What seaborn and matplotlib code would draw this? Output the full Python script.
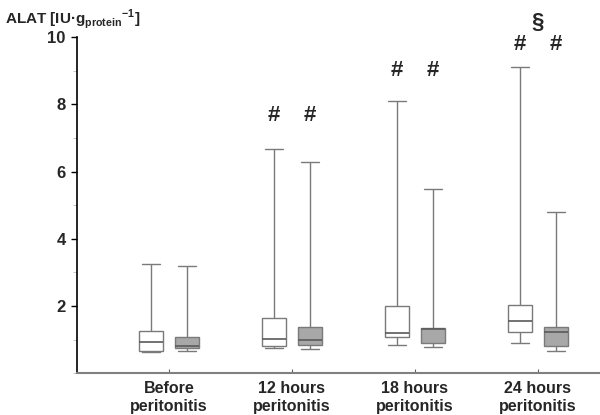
import pandas as pd
import matplotlib
matplotlib.use("Agg")
import matplotlib.pyplot as plt
import seaborn as sns
from matplotlib.ticker import MultipleLocator

# ---------------------------------------------
# Data: five-number summaries
# [min, q1, median, q3, max]
# ---------------------------------------------
categories = ["Before\nperitonitis", "12 hours\nperitonitis",
              "18 hours\nperitonitis", "24 hours\nperitonitis"]
groups = ["Group 1", "Group 2"]

group1_stats = [
    [0.64, 0.65, 0.92, 1.26, 3.24],
    [0.74, 0.81, 1.03, 1.63, 6.66],
    [0.84, 1.06, 1.18, 2.00, 8.09],
    [0.89, 1.21, 1.54, 2.03, 9.12],
]
group2_stats = [
    [0.67, 0.76, 0.81, 1.08, 3.19],
    [0.71, 0.84, 0.99, 1.36, 6.30],
    [0.77, 0.91, 1.32, 1.35, 5.47],
    [0.65, 0.82, 1.21, 1.37, 4.80],
]

# significance marks: (category index, group index or None for centre, symbol, y)
marks = [
    (1, 0, "#", 7.68), (1, 1, "#", 7.68),
    (2, 0, "#", 9.02), (2, 1, "#", 9.02),
    (3, 0, "#", 9.79), (3, 1, "#", 9.79),
    (3, None, "§", 10.45),
]

# five values -> quartiles with linear interpolation hit exactly q1/median/q3
rows = []
for cat, s1, s2 in zip(categories, group1_stats, group2_stats):
    for v in s1:
        rows.append({"time": cat, "group": groups[0], "alat": v})
    for v in s2:
        rows.append({"time": cat, "group": groups[1], "alat": v})
df = pd.DataFrame(rows)

sns.set_style("white")
plt.rcParams["font.family"] = ["Liberation Sans", "DejaVu Sans"]
plt.rcParams["font.weight"] = "bold"
plt.rcParams["mathtext.fontset"] = "custom"
plt.rcParams["mathtext.bf"] = "Liberation Sans:bold"
plt.rcParams["mathtext.rm"] = "Liberation Sans:bold"

fig = plt.figure(figsize=(6, 4.15), dpi=100)
ax = fig.add_axes([0.128, 0.101, 0.872, 0.809])

box_width = 0.585
sns.boxplot(data=df, x="time", y="alat", hue="group", order=categories,
            hue_order=groups, whis=(0, 100), width=box_width, gap=0.33,
            palette=["white", "#a8a8a8"], linecolor="#7a7a7a", linewidth=1.0,
            medianprops=dict(color="#5a5a5a", linewidth=1.2),
            legend=False, ax=ax)

# widen the whisker caps a bit (reference caps ~ 3/4 of box width)
for cont in ax.containers:
    for cap in getattr(cont, "caps", []):
        xs = cap.get_xdata()
        mid = (xs[0] + xs[-1]) / 2
        cap.set_xdata([mid - 0.075, mid + 0.075])

ax.set_ylim(0, 10)
ax.set_xlim(-0.748, 3.504)
ax.yaxis.set_minor_locator(MultipleLocator(1))
ax.set_yticks([2, 4, 6, 8, 10])
ax.set_xlabel("")
ax.set_ylabel("")

for side in ["top", "right"]:
    ax.spines[side].set_visible(False)
ax.spines["left"].set_color("black")
ax.spines["left"].set_linewidth(1.2)
ax.spines["bottom"].set_color("#808080")
ax.spines["bottom"].set_linewidth(1.5)

ax.tick_params(axis="y", which="major", direction="out", length=4, width=1,
               color="black", labelsize=12, pad=4, left=True)
ax.tick_params(axis="y", which="minor", direction="out", length=3, width=0.6,
               color="#bbbbbb", left=True)
ax.tick_params(axis="x", direction="in", length=3, width=0.8, color="#606060",
               labelsize=11.5, pad=6, bottom=True)
for lab in ax.get_xticklabels() + ax.get_yticklabels():
    lab.set_fontweight("bold")

# significance symbols
offset = box_width / 4
for ci, gi, sym, y in marks:
    x = ci if gi is None else ci + (-offset if gi == 0 else offset)
    ax.text(x, y, sym, ha="center", va="center", fontsize=16,
            fontweight="bold", clip_on=False)

fig.text(0.008, 0.955, r"ALAT [IU·g$_{\mathbf{protein}}$$^{\mathbf{-1}}$]",
         fontsize=11, fontweight="bold", ha="left", va="center")

fig.savefig("out.png", dpi=100)
